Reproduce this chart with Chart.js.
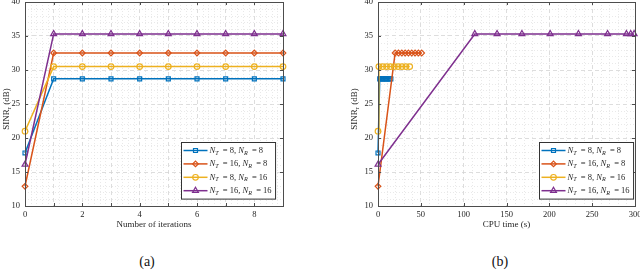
<!DOCTYPE html>
<html>
<head>
<meta charset="utf-8">
<script src="https://cdn.jsdelivr.net/npm/chart.js@4.4.0/dist/chart.umd.min.js"></script>
<style>
  body { margin: 0; background: #fff; }
  #wrap { position: relative; width: 640px; height: 273px; font-family: "Liberation Serif", serif; }
  .box { position: absolute; top: 0; width: 320px; height: 240px; }
  .cap { position: absolute; top: 254px; width: 40px; text-align: center; font-size: 14px; color: #111; }
</style>
</head>
<body>
<div id="wrap">
  <div class="box" style="left:0"><canvas id="chartA"></canvas></div>
  <div class="box" style="left:320px"><canvas id="chartB"></canvas></div>
  <div class="cap" style="left:127px">(a)</div>
  <div class="cap" style="left:480px">(b)</div>
</div>
<script>
// Data
const iterations = [0, 1, 2, 3, 4, 5, 6, 7, 8, 9];

const sinr_8_8   = [17.8, 28.7, 28.7, 28.7, 28.7, 28.7, 28.7, 28.7, 28.7, 28.7];
const sinr_16_8  = [12.9, 32.5, 32.5, 32.5, 32.5, 32.5, 32.5, 32.5, 32.5, 32.5];
const sinr_8_16  = [21.0, 30.5, 30.5, 30.5, 30.5, 30.5, 30.5, 30.5, 30.5, 30.5];
const sinr_16_16 = [16.1, 35.3, 35.3, 35.3, 35.3, 35.3, 35.3, 35.3, 35.3, 35.3];

// CPU time (s) at each iteration
const cpu_8_8   = [0, 2.0, 3.6, 5.2, 6.9, 8.5, 10.1, 11.7, 13.4, 15.0];
const cpu_16_8  = [0, 20.0, 23.9, 27.8, 31.7, 35.5, 39.4, 43.3, 47.2, 51.0];
const cpu_8_16  = [0, 1.0, 5.5, 10.0, 14.5, 19.0, 23.5, 28.0, 32.5, 37.0];
const cpu_16_16 = [0, 113, 139, 168, 201, 234, 268, 290, 295, 299];

// legend: N_T and N_R of each series
const nT = [8, 16, 8, 16];
const nR = [8, 8, 16, 16];

const colors  = ['#0072BD', '#D95319', '#EDB120', '#7E2F8E'];
const markers = ['rect', 'rectRot', 'circle', 'triangle'];
const FONT = '"Liberation Serif", "Times New Roman", serif';
const TXT = '#262626';

function pts(xs, ys) {
  return xs.map((v, i) => ({ x: v, y: ys[i] }));
}

function makeDatasets(xsList) {
  const ys = [sinr_8_8, sinr_16_8, sinr_8_16, sinr_16_16];
  return ys.map((s, i) => ({
    label: 'N_T = ' + nT[i] + ', N_R = ' + nR[i],
    data: pts(xsList[i], s),
    showLine: true,
    borderColor: colors[i],
    borderWidth: 1.5,
    pointStyle: markers[i],
    pointRadius: i == 3 ? 3.4 : 2.8,
    pointBorderWidth: 1.2,
    pointBorderColor: colors[i],
    pointBackgroundColor: 'rgba(255,255,255,0)',
    order: 3 - i,
    clip: false
  }));
}

// text with subscripts: parts = [text, italic, subscript]
function drawParts(ctx, parts, x, y, fs, measureOnly) {
  let w = 0;
  for (const p of parts) {
    const size = p[2] ? fs * 0.72 : fs;
    ctx.font = (p[1] ? 'italic ' : '') + size + 'px ' + FONT;
    if (!measureOnly) ctx.fillText(p[0], x + w, y + (p[2] ? fs * 0.3 : 0));
    w += ctx.measureText(p[0]).width;
  }
  return w;
}

function legendParts(i) {
  return [['N', 1, 0], ['T', 1, 1], ['  = ' + nT[i] + ', ', 0, 0],
          ['N', 1, 0], ['R', 1, 1], ['  = ' + nR[i], 0, 0]];
}

// MATLAB style axes: minor grid, box, inward ticks, y title, legend
const matlabAxes = {
  id: 'matlabAxes',
  beforeDatasetsDraw(chart, args, opts) {
    const { ctx, chartArea: a, scales: { x, y } } = chart;
    ctx.save();
    ctx.strokeStyle = '#e3e3e3';
    ctx.lineWidth = 0.8;
    ctx.setLineDash([1, 2]);
    const nx = Math.round((x.max - x.min) / opts.minorX);
    for (let k = 1; k < nx; k++) {
      const v = x.min + k * opts.minorX;
      if (Math.abs(v / opts.majorX - Math.round(v / opts.majorX)) < 1e-6) continue;
      const px = Math.round(x.getPixelForValue(v)) + 0.5;
      ctx.beginPath(); ctx.moveTo(px, a.top); ctx.lineTo(px, a.bottom); ctx.stroke();
    }
    const ny = Math.round((y.max - y.min) / opts.minorY);
    for (let k = 1; k < ny; k++) {
      const v = y.min + k * opts.minorY;
      if (Math.abs(v / opts.majorY - Math.round(v / opts.majorY)) < 1e-6) continue;
      const py = Math.round(y.getPixelForValue(v)) + 0.5;
      ctx.beginPath(); ctx.moveTo(a.left, py); ctx.lineTo(a.right, py); ctx.stroke();
    }
    ctx.restore();
  },
  afterDraw(chart, args, opts) {
    const { ctx, chartArea: a, scales: { x, y } } = chart;
    ctx.save();
    // box
    ctx.strokeStyle = '#4d4d4d';
    ctx.lineWidth = 1;
    ctx.strokeRect(Math.round(a.left) + 0.5, Math.round(a.top) + 0.5,
                   Math.round(a.right - a.left), Math.round(a.bottom - a.top));
    // inward ticks
    ctx.beginPath();
    x.ticks.forEach(t => {
      const px = Math.round(x.getPixelForValue(t.value)) + 0.5;
      ctx.moveTo(px, a.bottom); ctx.lineTo(px, a.bottom - 3);
      ctx.moveTo(px, a.top); ctx.lineTo(px, a.top + 3);
    });
    y.ticks.forEach(t => {
      const py = Math.round(y.getPixelForValue(t.value)) + 0.5;
      ctx.moveTo(a.left, py); ctx.lineTo(a.left + 3, py);
      ctx.moveTo(a.right, py); ctx.lineTo(a.right - 3, py);
    });
    ctx.stroke();

    // y axis title with subscript
    ctx.fillStyle = TXT;
    ctx.textBaseline = 'middle';
    ctx.textAlign = 'left';
    const yParts = [['SINR', 0, 0], ['r', 0, 1], [' (dB)', 0, 0]];
    const fsT = 9;
    const tw = drawParts(ctx, yParts, 0, 0, fsT, true);
    ctx.translate(opts.yTitleX, (a.top + a.bottom) / 2 + 5);
    ctx.rotate(-Math.PI / 2);
    drawParts(ctx, yParts, -tw / 2, 0, fsT, false);
    ctx.setTransform(1, 0, 0, 1, 0, 0);

    // legend
    const fs = 8.5, rowH = 13.4;
    let maxW = 0;
    for (let i = 0; i < 4; i++) maxW = Math.max(maxW, drawParts(ctx, legendParts(i), 0, 0, fs, true));
    const bw = 28 + maxW + 4, bh = 4 * rowH + 3;
    const bx = Math.round(a.right - opts.legendRight - bw) + 0.5;
    const by = Math.round(a.bottom - 7 - bh) + 0.5;
    ctx.fillStyle = '#fff';
    ctx.fillRect(bx, by, bw, bh);
    ctx.strokeStyle = '#333';
    ctx.lineWidth = 1;
    ctx.strokeRect(bx, by, bw, bh);
    for (let i = 0; i < 4; i++) {
      const cy = by + 8 + i * rowH;
      ctx.strokeStyle = colors[i];
      ctx.lineWidth = 1.5;
      ctx.beginPath(); ctx.moveTo(bx + 2, cy); ctx.lineTo(bx + 26, cy); ctx.stroke();
      ctx.fillStyle = 'rgba(255,255,255,0)';
      ctx.lineWidth = 1.2;
      Chart.helpers.drawPoint(ctx, { pointStyle: markers[i], radius: i == 3 ? 3.4 : 2.8, borderWidth: 1.2, rotation: 0 }, bx + 14, cy);
      ctx.fillStyle = TXT;
      drawParts(ctx, legendParts(i), bx + 28, cy, fs, false);
    }
    ctx.restore();
  }
};

function makeChart(id, xsList, xOpts, pad, yWidth, extra) {
  return new Chart(document.getElementById(id), {
    type: 'scatter',
    data: { datasets: makeDatasets(xsList) },
    options: {
      responsive: true,
      maintainAspectRatio: false,
      animation: false,
      layout: { autoPadding: false, padding: { top: 2, right: pad, left: 0, bottom: 0 } },
      plugins: { legend: { display: false }, tooltip: { enabled: false }, matlabAxes: extra },
      scales: {
        x: Object.assign({
          type: 'linear',
          grid: { color: '#d4d4d4', lineWidth: 0.8, drawTicks: false },
          border: { display: false, dash: [4, 3] },
          afterFit: s => { s.height = 34; s.paddingLeft = 0; s.paddingRight = 0; }
        }, xOpts),
        y: {
          min: 10, max: 40,
          ticks: { stepSize: 5, padding: 5, color: TXT, font: { family: FONT, size: 8.5 } },
          grid: { color: '#d4d4d4', lineWidth: 0.8, drawTicks: false },
          border: { display: false, dash: [4, 3] },
          afterFit: s => { s.width = yWidth; s.paddingTop = 0; s.paddingBottom = 0; }
        }
      }
    },
    plugins: [matlabAxes]
  });
}

makeChart('chartA', [iterations, iterations, iterations, iterations], {
  min: 0, max: 9,
  ticks: { stepSize: 1, padding: 4, autoSkip: false, maxRotation: 0, color: TXT,
           font: { family: FONT, size: 8.5 },
           callback: v => (v % 2 === 0 ? v : '') },
  title: { display: true, text: 'Number of iterations', color: TXT, font: { family: FONT, size: 9 }, padding: { top: 0, bottom: 10 } }
}, 37, 25, { minorX: 0.2, majorX: 1, minorY: 1, majorY: 5, yTitleX: 7, legendRight: 8 });

makeChart('chartB', [cpu_8_8, cpu_16_8, cpu_8_16, cpu_16_16], {
  min: 0, max: 300,
  ticks: { stepSize: 50, padding: 4, autoSkip: false, maxRotation: 0, color: TXT,
           font: { family: FONT, size: 8.5 } },
  title: { display: true, text: 'CPU time (s)', color: TXT, font: { family: FONT, size: 9 }, padding: { top: 0, bottom: 10 } }
}, 5, 58, { minorX: 10, majorX: 50, minorY: 1, majorY: 5, yTitleX: 35, legendRight: 2 });
</script>
</body>
</html>
